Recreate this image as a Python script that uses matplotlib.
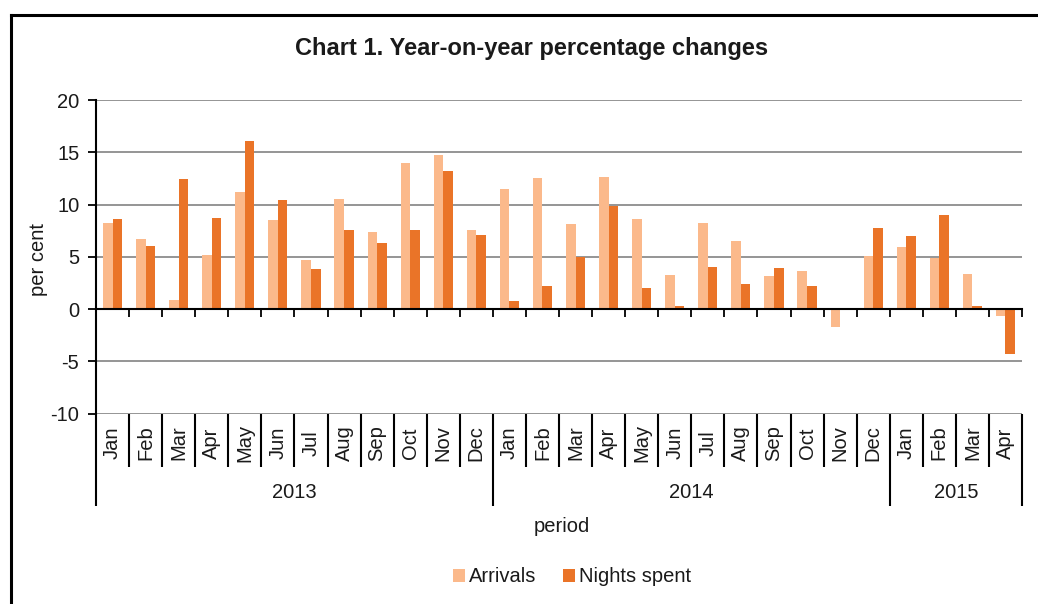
import matplotlib
matplotlib.use("Agg")
import matplotlib.pyplot as plt
import matplotlib.transforms as mtransforms
from matplotlib.patches import Patch
from matplotlib.lines import Line2D

plt.rcParams['font.family'] = ['Liberation Sans', 'DejaVu Sans']
plt.rcParams['axes.unicode_minus'] = False

months = ["Jan", "Feb", "Mar", "Apr", "May", "Jun", "Jul", "Aug", "Sep", "Oct", "Nov", "Dec",
          "Jan", "Feb", "Mar", "Apr", "May", "Jun", "Jul", "Aug", "Sep", "Oct", "Nov", "Dec",
          "Jan", "Feb", "Mar", "Apr"]
years = ["2013", "2014", "2015"]
year_counts = [12, 12, 4]

arrivals = [8.2, 6.7, 0.9, 5.2, 11.2, 8.5, 4.7, 10.5, 7.4, 14.0, 14.7, 7.6,
            11.5, 12.5, 8.1, 12.6, 8.6, 3.3, 8.2, 6.5, 3.2, 3.6, -1.7, 5.1,
            5.9, 4.9, 3.4, -0.7]
nights = [8.6, 6.0, 12.4, 8.7, 16.1, 10.4, 3.8, 7.6, 6.3, 7.6, 13.2, 7.1,
          0.8, 2.2, 5.0, 9.9, 2.0, 0.3, 4.0, 2.4, 3.9, 2.2, 0.0, 7.8,
          7.0, 9.0, 0.3, -4.3]

c_arr = "#FBB98B"
c_nig = "#EA7428"
txt = "#1a1a1a"
fs = 14.5

W, H = 1038, 604
fig = plt.figure(figsize=(W / 100, H / 100), dpi=100)
fig.patch.set_facecolor("white")

L, R, T, B = 96, 1022, 100, 413.7
ax = fig.add_axes([L / W, 1 - B / H, (R - L) / W, (B - T) / H])

n = len(months)
bw = 0.29
xs = [i + 0.5 for i in range(n)]
ax.bar([x - bw / 2 for x in xs], arrivals, width=bw, color=c_arr, linewidth=0, zorder=3)
ax.bar([x + bw / 2 for x in xs], nights, width=bw, color=c_nig, linewidth=0, zorder=3)

ax.set_xlim(0, n)
ax.set_ylim(-10, 20)
ax.set_yticks(range(-10, 21, 5))
ax.yaxis.grid(True, color="#8c8c8c", linewidth=1.3, zorder=0)
ax.set_axisbelow(True)
for s in ["top", "right"]:
    ax.spines[s].set_visible(False)
ax.spines["left"].set_color("black")
ax.spines["left"].set_linewidth(1.5)
ax.spines["bottom"].set_position(("data", 0))
ax.spines["bottom"].set_color("black")
ax.spines["bottom"].set_linewidth(1.5)
ax.spines["bottom"].set_zorder(4)
ax.set_xticks(range(0, n + 1))
ax.set_xticklabels([])
ax.tick_params(axis="x", direction="out", length=6, width=1.3, color="black")
ax.tick_params(axis="y", direction="out", length=6, width=1.3, color="black",
               labelsize=fs, labelcolor=txt, pad=6)

# multi-level category axis below plot
trans = mtransforms.blended_transform_factory(ax.transData, ax.transAxes)
ph = B - T
y_sep = -(467 - B) / ph
y_ysep = -(506 - B) / ph
y_lab = -(443 - B) / ph
y_year = -(493 - B) / ph

year_bounds = [0]
for c in year_counts:
    year_bounds.append(year_bounds[-1] + c)

for b in range(n + 1):
    y_end = y_ysep if b in year_bounds else y_sep
    ax.plot([b, b], [0, y_end], color="black", linewidth=1.5, transform=trans, clip_on=False,
            solid_capstyle="butt")
for i, m in enumerate(months):
    ax.text(i + 0.5, y_lab, m, rotation=90, ha="center", va="center", fontsize=fs,
            color=txt, transform=trans)
for k, yname in enumerate(years):
    ax.text((year_bounds[k] + year_bounds[k + 1]) / 2, y_year, yname, ha="center", va="center",
            fontsize=fs, color=txt, transform=trans)

fig.text(562 / W, 1 - 527 / H, "period", ha="center", va="center", fontsize=fs, color=txt)
fig.text(39 / W, 1 - 260 / H, "per cent", ha="center", va="center", rotation=90,
         fontsize=fs, color=txt)
fig.text(532 / W, 1 - 49 / H, "Chart 1. Year-on-year percentage changes", ha="center",
         va="center", fontsize=17, fontweight="bold", color=txt)

handles = [Patch(facecolor=c_arr, edgecolor="none", label="Arrivals"),
           Patch(facecolor=c_nig, edgecolor="none", label="Nights spent")]
fig.legend(handles=handles, loc="center", bbox_to_anchor=(572 / W, 1 - 577 / H), ncol=2,
           frameon=False, fontsize=fs, handlelength=0.6, handleheight=0.6,
           handletextpad=0.2, columnspacing=1.3, labelcolor=txt)

# outer border (top and left visible)
fig.add_artist(Line2D([11 / W, 1.0], [1 - 15 / H, 1 - 15 / H], color="black", linewidth=2.2,
                      transform=fig.transFigure))
fig.add_artist(Line2D([11 / W, 11 / W], [1 - 15 / H, 0], color="black", linewidth=2.2,
                      transform=fig.transFigure))

fig.savefig("out.png", dpi=100)
